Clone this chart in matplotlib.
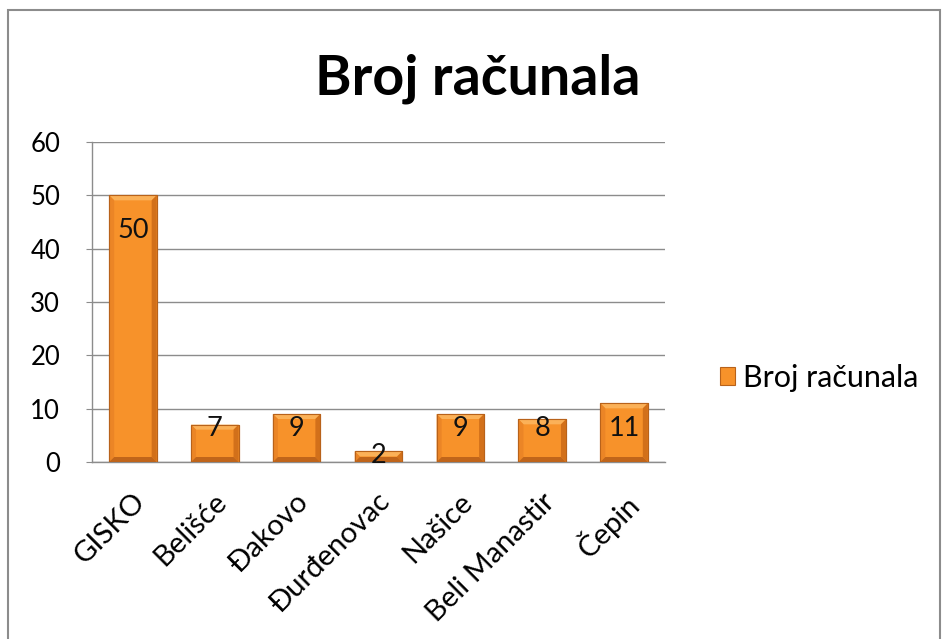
import matplotlib
matplotlib.use("Agg")
import matplotlib.pyplot as plt
import numpy as np
from matplotlib.patches import Rectangle, Polygon
from matplotlib.transforms import ScaledTranslation

plt.rcParams['font.family'] = ['Lato', 'DejaVu Sans']

categories = ["GISKO", "Belišće", "Đakovo", "Đurđenovac", "Našice", "Beli Manastir", "Čepin"]
values = [50, 7, 9, 2, 9, 8, 11]
series_name = "Broj računala"
title = "Broj računala"
yticks = [0, 10, 20, 30, 40, 50, 60]

W, H = 942, 639
fig = plt.figure(figsize=(W/100, H/100), dpi=100)
fig.patches.append(Rectangle((8/W, -0.02), (940-8)/W, 1.02 - 10/H, transform=fig.transFigure,
                             fill=False, edgecolor='#8c8c8c', linewidth=1.5))
ax_l, ax_r, ax_t, ax_b = 92, 665, 142, 462
ax = fig.add_axes([ax_l/W, 1-ax_b/H, (ax_r-ax_l)/W, (ax_b-ax_t)/H])

face = '#f7922a'
x = np.arange(len(categories))
width = 0.58
bars = ax.bar(x, values, width=width, color=face, edgecolor='#b8621a', linewidth=0.8, zorder=3,
              label=series_name)

ax.set_xlim(-0.5, len(categories) - 0.5)
ax.set_ylim(0, 60)

# bevel effect (5 px wide)
px_x = (ax_r - ax_l) / len(categories)
px_y = (ax_b - ax_t) / 60.0
dx, dy = 5 / px_x, 5 / px_y
for b in bars:
    x0, y0 = b.get_x(), b.get_y()
    x1, y1 = x0 + b.get_width(), y0 + b.get_height()
    ddy = min(dy, (y1 - y0) / 2)
    polys = [
        ([(x0, y1), (x1, y1), (x1 - dx, y1 - ddy), (x0 + dx, y1 - ddy)], '#fbb158'),
        ([(x0, y0), (x0, y1), (x0 + dx, y1 - ddy), (x0 + dx, y0 + ddy)], '#eb8526'),
        ([(x1, y0), (x1, y1), (x1 - dx, y1 - ddy), (x1 - dx, y0 + ddy)], '#d2701a'),
        ([(x0, y0), (x1, y0), (x1 - dx, y0 + ddy), (x0 + dx, y0 + ddy)], '#c0651a'),
    ]
    for pts, c in polys:
        ax.add_patch(Polygon(pts, closed=True, facecolor=c, edgecolor='none', zorder=3.5))
    ax.add_patch(Rectangle((x0, y0), x1 - x0, y1 - y0, fill=False, edgecolor='#b8621a',
                           linewidth=0.8, zorder=3.6))

for xi, v in zip(x, values):
    ypos = v - 6.5 if v > 20 else min(6.2, v - 0.7)
    ax.text(xi, ypos, str(v), ha='center', va='center', fontsize=19.5, color='#111111', zorder=5)

ax.set_yticks(yticks)
ax.set_yticklabels([str(t) for t in yticks], fontsize=18.5)
ax.set_xticks(x)
ax.set_xticklabels(categories, rotation=45, ha='right', va='top', rotation_mode='anchor', fontsize=21)
ax.tick_params(axis='x', length=0, pad=19)
for lab in ax.get_xticklabels():
    lab.set_transform(lab.get_transform() + ScaledTranslation(-1/100, 0, fig.dpi_scale_trans))
ax.tick_params(axis='y', length=4, color='#8c8c8c', pad=19)
ax.grid(axis='y', color='#8c8c8c', linewidth=1, zorder=0)
ax.set_axisbelow(True)
for s in ['top', 'right']:
    ax.spines[s].set_visible(False)
for s in ['left', 'bottom']:
    ax.spines[s].set_color('#8c8c8c')
    ax.spines[s].set_linewidth(1)

fig.text(478/W, 1-95/H, title, ha='center', va='baseline', fontsize=40, fontweight='bold')

leg = fig.legend(handles=[bars[0]], labels=[series_name], loc='center left',
                 bbox_to_anchor=(720/W, 1-378/H), frameon=False, fontsize=22,
                 handlelength=0.5, handleheight=0.5, handletextpad=0.25,
                 borderaxespad=0, borderpad=0)

fig.savefig('out.png', dpi=100)
